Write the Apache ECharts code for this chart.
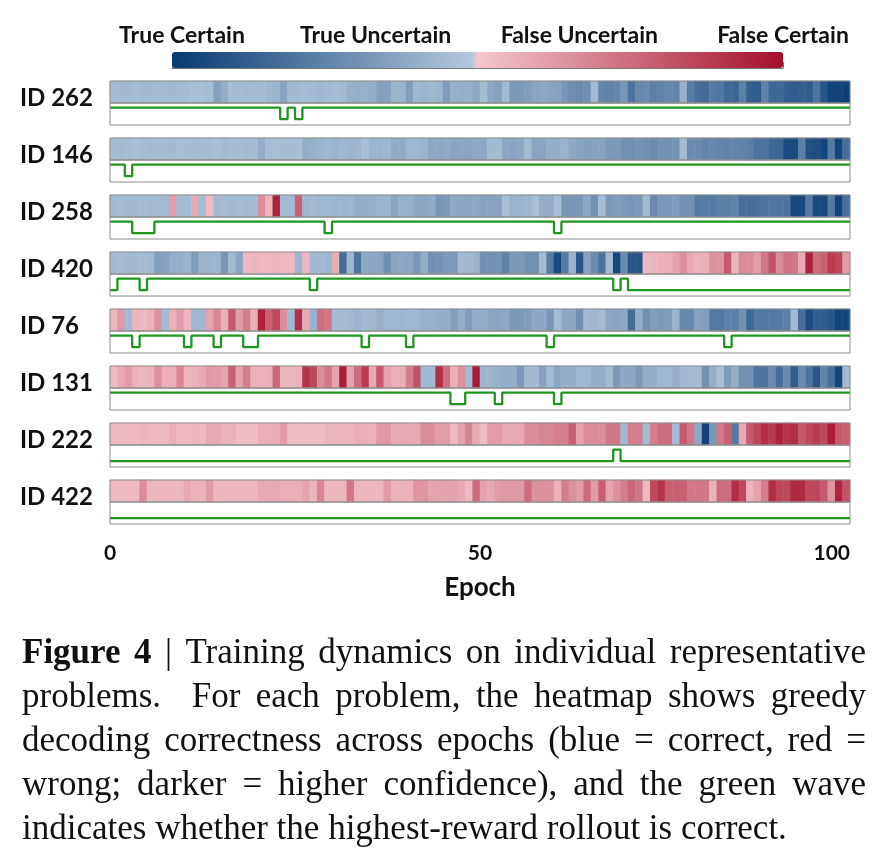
<!DOCTYPE html>
<html><head><meta charset="utf-8">
<script src="https://cdn.jsdelivr.net/npm/echarts@6/dist/echarts.min.js"></script>
<style>html,body{margin:0;padding:0;background:#fff}#c{width:885px;height:848px}</style>
</head><body><div id="c"></div>
<script>
// ---------------- data ----------------
const problemIds = ['ID 262','ID 146','ID 258','ID 420','ID 76','ID 131','ID 222','ID 422'];
// greedy decoding score per epoch: 0 = true certain ... 50 = boundary ... 100 = false certain
const hm262 = [45,44,44,45,44,44,45,44,44,45,45,46,46,45,36,40,45,45,44,45,45,43,42,37,44,44,45,44,43,44,45,44,41,40,41,40,35,36,42,42,35,43,42,43,42,34,41,40,41,38,45,38,36,44,33,33,34,37,38,37,36,32,29,28,30,44,26,25,27,32,20,27,28,24,25,27,26,41,23,18,17,22,21,16,15,24,13,12,25,15,16,13,12,13,12,20,9,3,3,2];
const hm146 = [45,44,45,46,45,44,45,45,44,46,45,44,45,45,46,44,45,45,44,45,40,45,46,45,45,46,40,41,42,43,42,43,42,43,46,42,42,43,39,39,43,43,42,38,38,39,37,38,37,38,38,44,44,38,37,38,44,37,37,40,40,42,38,36,35,36,36,33,33,30,30,31,30,28,31,30,31,44,28,28,26,27,26,25,26,25,24,20,20,16,15,6,6,24,8,7,4,22,4,18];
const hm258 = [44,45,44,44,45,44,45,44,62,44,45,58,45,54,44,45,44,45,44,45,66,55,95,44,44,78,43,44,43,43,42,42,43,40,40,41,42,42,37,41,41,38,38,39,32,33,38,38,37,38,36,36,37,46,42,42,43,46,40,40,46,32,32,33,38,30,45,33,34,33,32,33,44,28,33,33,34,30,30,22,23,22,24,24,25,18,18,19,20,21,20,20,5,5,22,5,5,22,3,18];
const hm420 = [44,45,44,44,45,44,35,36,40,40,42,34,42,42,43,32,44,38,54,55,54,54,55,54,54,43,55,44,44,43,57,17,43,20,38,38,37,30,37,38,37,32,40,30,31,33,33,44,44,42,30,30,31,25,33,33,30,30,44,22,5,22,42,10,36,28,20,44,4,28,10,10,54,55,56,57,60,65,58,56,57,65,64,80,55,67,66,62,72,82,66,73,72,58,95,75,78,88,85,62];
const hm76  = [55,63,44,55,54,56,65,44,56,62,55,43,43,60,68,56,80,62,70,56,95,78,85,66,44,92,58,42,74,72,45,45,44,42,44,44,41,43,43,42,43,43,41,41,40,40,35,40,34,40,40,37,37,38,33,33,34,38,38,32,44,38,38,30,44,43,44,38,37,38,18,40,30,34,33,34,42,27,27,36,35,22,22,25,24,30,15,22,21,22,22,24,44,18,6,12,12,10,4,4];
const hm131 = [54,58,62,56,55,56,65,57,57,68,55,56,58,63,62,60,78,60,70,56,56,57,76,55,55,56,90,85,66,72,60,96,60,75,88,58,80,60,57,57,70,82,44,44,92,74,56,65,44,97,42,42,41,40,40,33,44,44,36,44,38,40,40,43,43,40,40,44,33,38,38,33,40,40,43,43,40,44,44,44,30,40,46,34,40,30,30,20,20,28,18,28,12,28,20,10,25,18,4,44];
const hm222 = [54,54,54,54,55,54,54,54,57,54,54,55,54,58,58,56,56,53,53,53,57,57,57,62,53,53,53,53,53,55,55,55,55,57,57,56,63,63,58,58,58,58,66,66,62,62,54,60,68,58,53,62,62,58,58,58,66,66,68,68,70,70,78,60,66,66,66,72,72,44,70,70,44,70,74,74,44,80,72,38,3,32,72,78,22,58,80,85,92,88,95,90,92,80,85,88,85,96,80,78];
const hm422 = [54,54,54,54,66,55,55,55,55,55,58,56,56,62,55,55,55,55,55,55,58,58,58,57,57,57,60,55,68,55,55,55,72,55,55,55,55,62,56,56,56,64,64,60,60,60,60,58,54,75,60,58,62,63,63,63,75,65,65,65,56,70,65,62,75,62,78,60,65,70,76,72,54,84,90,78,78,78,72,72,72,56,75,75,92,85,56,60,70,92,85,85,93,93,85,85,80,64,94,82];
// highest-reward rollout correct (1) or not (0) per epoch
const wave262 = [1,1,1,1,1,1,1,1,1,1, 1,1,1,1,1,1,1,1,1,1, 1,1,1,0,1,0,1,1,1,1, 1,1,1,1,1,1,1,1,1,1, 1,1,1,1,1,1,1,1,1,1, 1,1,1,1,1,1,1,1,1,1, 1,1,1,1,1,1,1,1,1,1, 1,1,1,1,1,1,1,1,1,1, 1,1,1,1,1,1,1,1,1,1, 1,1,1,1,1,1,1,1,1,1];
const wave146 = [1,1,0,1,1,1,1,1,1,1, 1,1,1,1,1,1,1,1,1,1, 1,1,1,1,1,1,1,1,1,1, 1,1,1,1,1,1,1,1,1,1, 1,1,1,1,1,1,1,1,1,1, 1,1,1,1,1,1,1,1,1,1, 1,1,1,1,1,1,1,1,1,1, 1,1,1,1,1,1,1,1,1,1, 1,1,1,1,1,1,1,1,1,1, 1,1,1,1,1,1,1,1,1,1];
const wave258 = [1,1,1,0,0,0,1,1,1,1, 1,1,1,1,1,1,1,1,1,1, 1,1,1,1,1,1,1,1,1,0, 1,1,1,1,1,1,1,1,1,1, 1,1,1,1,1,1,1,1,1,1, 1,1,1,1,1,1,1,1,1,1, 0,1,1,1,1,1,1,1,1,1, 1,1,1,1,1,1,1,1,1,1, 1,1,1,1,1,1,1,1,1,1, 1,1,1,1,1,1,1,1,1,1];
const wave420 = [0,1,1,1,0,1,1,1,1,1, 1,1,1,1,1,1,1,1,1,1, 1,1,1,1,1,1,1,0,1,1, 1,1,1,1,1,1,1,1,1,1, 1,1,1,1,1,1,1,1,1,1, 1,1,1,1,1,1,1,1,1,1, 1,1,1,1,1,1,1,1,0,1, 0,0,0,0,0,0,0,0,0,0, 0,0,0,0,0,0,0,0,0,0, 0,0,0,0,0,0,0,0,0,0];
const wave76  = [1,1,1,0,1,1,1,1,1,1, 0,1,1,1,0,1,1,1,0,0, 1,1,1,1,1,1,1,1,1,1, 1,1,1,1,0,1,1,1,1,1, 0,1,1,1,1,1,1,1,1,1, 1,1,1,1,1,1,1,1,1,0, 1,1,1,1,1,1,1,1,1,1, 1,1,1,1,1,1,1,1,1,1, 1,1,1,0,1,1,1,1,1,1, 1,1,1,1,1,1,1,1,1,1];
const wave131 = [1,1,1,1,1,1,1,1,1,1, 1,1,1,1,1,1,1,1,1,1, 1,1,1,1,1,1,1,1,1,1, 1,1,1,1,1,1,1,1,1,1, 1,1,1,1,1,1,0,0,1,1, 1,1,0,1,1,1,1,1,1,1, 0,1,1,1,1,1,1,1,1,1, 1,1,1,1,1,1,1,1,1,1, 1,1,1,1,1,1,1,1,1,1, 1,1,1,1,1,1,1,1,1,1];
const wave222 = [0,0,0,0,0,0,0,0,0,0, 0,0,0,0,0,0,0,0,0,0, 0,0,0,0,0,0,0,0,0,0, 0,0,0,0,0,0,0,0,0,0, 0,0,0,0,0,0,0,0,0,0, 0,0,0,0,0,0,0,0,0,0, 0,0,0,0,0,0,0,0,1,0, 0,0,0,0,0,0,0,0,0,0, 0,0,0,0,0,0,0,0,0,0, 0,0,0,0,0,0,0,0,0,0];
const wave422 = [0,0,0,0,0,0,0,0,0,0, 0,0,0,0,0,0,0,0,0,0, 0,0,0,0,0,0,0,0,0,0, 0,0,0,0,0,0,0,0,0,0, 0,0,0,0,0,0,0,0,0,0, 0,0,0,0,0,0,0,0,0,0, 0,0,0,0,0,0,0,0,0,0, 0,0,0,0,0,0,0,0,0,0, 0,0,0,0,0,0,0,0,0,0, 0,0,0,0,0,0,0,0,0,0];
const xTickValues = [0, 50, 100];
const colorbarLabels = ['True Certain','True Uncertain','False Uncertain','False Certain'];
const captionLines = [
  'Figure 4 | Training dynamics on individual representative',
  'problems.  For each problem, the heatmap shows greedy',
  'decoding correctness across epochs (blue = correct, red =',
  'wrong; darker = higher confidence), and the green wave',
  'indicates whether the highest-reward rollout is correct.'
];
const captionBoldPrefix = 'Figure 4';

// ---------------- build ----------------
const heats = [hm262, hm146, hm258, hm420, hm76, hm131, hm222, hm422];
const waves = [wave262, wave146, wave258, wave420, wave76, wave131, wave222, wave422];
const nEpoch = hm262.length;
const epochCats = heats[0].map((_, i) => String(i));

function hex(c){return [parseInt(c.slice(1,3),16),parseInt(c.slice(3,5),16),parseInt(c.slice(5,7),16)];}
function mix(a,b,t){const A=hex(a),B=hex(b);return 'rgb('+A.map((v,i)=>Math.round(v+(B[i]-v)*t)).join(',')+')';}
const DB='#073a72', LB='#b7cbdf', LP='#f4c8cf', DR='#a50f2c';
const cmap=[];
for(let k=0;k<=200;k++){const v=k/2; cmap.push(v<50?mix(DB,LB,v/50):mix(LP,DR,(v-50)/50));}

const L=110, W=740, TOP0=81, PITCH=57, HH=22, LH=22;
const FONT='Lato';
const TXT='#111';
const grids=[], xAxes=[], yAxes=[], series=[];
for(let r=0;r<8;r++){
  grids.push({left:L, width:W, top:TOP0+PITCH*r, height:HH, show:true, borderColor:'#8c8c8c', borderWidth:1, z:10});
}
for(let r=0;r<8;r++){
  grids.push({left:L, width:W, top:TOP0+PITCH*r+HH, height:LH, show:true, borderColor:'#8c8c8c', borderWidth:1, z:10});
}
grids.push({left:172, width:611, top:52, height:16, show:false});

for(let r=0;r<8;r++){
  xAxes.push({type:'category', gridIndex:r, data:epochCats, show:false});
  yAxes.push({type:'category', gridIndex:r, data:[problemIds[r]], axisLine:{show:false}, axisTick:{show:false},
    axisLabel:{align:'left', verticalAlign:'top', lineHeight:12, margin:90, fontFamily:FONT, fontWeight:'bold', fontSize:24, color:TXT}});
  series.push({type:'heatmap', xAxisIndex:r, yAxisIndex:r, silent:true,
    data:heats[r].map((v,i)=>[i,0,v]), itemStyle:{borderWidth:0}});
}
for(let r=0;r<8;r++){
  const last = r===7;
  xAxes.push({type:'value', gridIndex:8+r, min:0, max:100, interval:50, show:last,
    axisLine:{show:false}, axisTick:{show:false}, splitLine:{show:false},
    axisLabel:{show:last, margin:19, alignMaxLabel:'right', fontFamily:FONT, fontWeight:'bold', fontSize:21, color:TXT,
      formatter:v=>xTickValues.includes(v)?String(v):''},
    name:last?'Epoch':'', nameLocation:'middle', nameGap:51,
    nameTextStyle:{fontFamily:FONT, fontWeight:'bold', fontSize:26, color:TXT}});
  yAxes.push({type:'value', gridIndex:8+r, min:-0.5, max:1.4, show:false});
  const d = waves[r].map((v,i)=>[i,v]);
  d.push([nEpoch, waves[r][nEpoch-1]]);
  series.push({type:'line', xAxisIndex:8+r, yAxisIndex:8+r, data:d, step:'end', symbol:'none', silent:true,
    lineStyle:{color:'#1f961f', width:2.3}});
}
const cbFont={fontFamily:FONT, fontWeight:'bold', fontSize:23, color:TXT};
xAxes.push({type:'category', gridIndex:16, data:colorbarLabels, boundaryGap:false, position:'top',
  axisLine:{show:true, lineStyle:{color:'#777', width:1}}, axisTick:{show:true, length:6, lineStyle:{color:'#777'}},
  axisLabel:Object.assign({interval:0, margin:5,
    formatter:(v,i)=>i===0?'{f|'+v+'}':v, rich:{f:Object.assign({padding:[0,0,0,20]},cbFont)}}, cbFont)});
yAxes.push({type:'value', gridIndex:16, show:false});

// caption with justified lines
const mctx=document.createElement('canvas').getContext('2d');
const CF=35, CX0=22, CX1=866;
function fontStr(b){return (b?'bold ':'')+CF+'px "Liberation Serif"';}
function tw(t,b){mctx.font=fontStr(b);return mctx.measureText(t).width;}
const graphics=[];
const baselines=[666,710,754,798,842];
captionLines.forEach((line,li)=>{
  const raw=line.split(' ');
  const words=[], weights=[];
  raw.forEach(tk=>{ if(tk===''){ if(weights.length) weights[weights.length-1]+=1; } else { words.push(tk); weights.push(1);} });
  weights.pop();
  let boldCount = li===0 ? captionBoldPrefix.split(' ').length : 0;
  const ws=words.map((w,i)=>tw(w,i<boldCount));
  const total=ws.reduce((a,b)=>a+b,0);
  const wsum=weights.reduce((a,b)=>a+b,0);
  const justify = li<captionLines.length-1;
  const gap = justify ? Math.max(tw(' ',false)*0.8,(CX1-CX0-total)/wsum) : tw(' ',false);
  let x=CX0;
  words.forEach((w,i)=>{
    graphics.push({type:'text', x:x, y:baselines[li]-0.3375*CF, silent:true,
      style:{text:w, font:fontStr(i<boldCount), fill:TXT, align:'left', verticalAlign:'middle'}});
    x+=ws[i]+(i<weights.length?weights[i]*gap:0);
  });
});

const chart=echarts.init(document.getElementById('c'),null,{renderer:'canvas'});
chart.setOption({
  animation:false,
  backgroundColor:'#fff',
  grid:grids, xAxis:xAxes, yAxis:yAxes, series:series,
  visualMap:{type:'continuous', min:0, max:100, seriesIndex:[0,1,2,3,4,5,6,7], orient:'horizontal',
    left:172, top:52, itemWidth:16, itemHeight:611, padding:0, calculable:false, hoverLink:false,
    inRange:{color:cmap}},
  graphic:graphics
});
</script></body></html>
